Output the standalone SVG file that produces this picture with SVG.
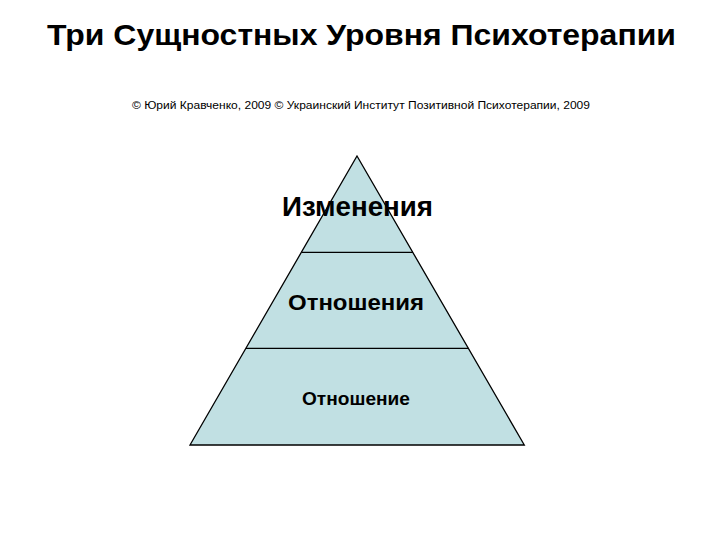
<svg xmlns="http://www.w3.org/2000/svg" width="720" height="540" viewBox="0 0 720 540">
  <style>
    .t { font-family: "Liberation Sans", Arial, sans-serif; fill: #000; text-anchor: middle; }
    .b { font-weight: bold; }
    .lvl { fill: #c1e0e3; stroke: none; }
    .edge { stroke: #000; stroke-width: 1.3; fill: none; }
  </style>
  <rect width="720" height="540" fill="#fff"/>
  <g id="title">
    <text class="t b" x="361.5" y="45" font-size="30" textLength="629" lengthAdjust="spacingAndGlyphs">Три Сущностных Уровня Психотерапии</text>
  </g>
  <g id="copyright">
    <text class="t" x="361" y="109" font-size="11.5" textLength="458" lengthAdjust="spacingAndGlyphs">© Юрий Кравченко, 2009 © Украинский Институт Позитивной Психотерапии, 2009</text>
  </g>
  <g id="level-top">
    <polygon class="lvl" points="357,156 413,252.3 301.5,252.3"/>
    <text class="t b" x="357.5" y="216" font-size="27" textLength="151" lengthAdjust="spacingAndGlyphs">Изменения</text>
  </g>
  <g id="level-middle">
    <polygon class="lvl" points="301.5,252.3 413,252.3 468.5,348.3 246,348.3"/>
    <text class="t b" x="356" y="310" font-size="22" textLength="136" lengthAdjust="spacingAndGlyphs">Отношения</text>
  </g>
  <g id="level-bottom">
    <polygon class="lvl" points="246,348.3 468.5,348.3 524.3,445 190,445"/>
    <text class="t b" x="356" y="405" font-size="18.5" textLength="108" lengthAdjust="spacingAndGlyphs">Отношение</text>
  </g>
  <g id="connectors">
    <polygon class="edge" points="357,156 524.3,445 190,445"/>
    <line class="edge" x1="301.5" y1="252.3" x2="413" y2="252.3"/>
    <line class="edge" x1="246" y1="348.3" x2="468.5" y2="348.3"/>
  </g>
</svg>
